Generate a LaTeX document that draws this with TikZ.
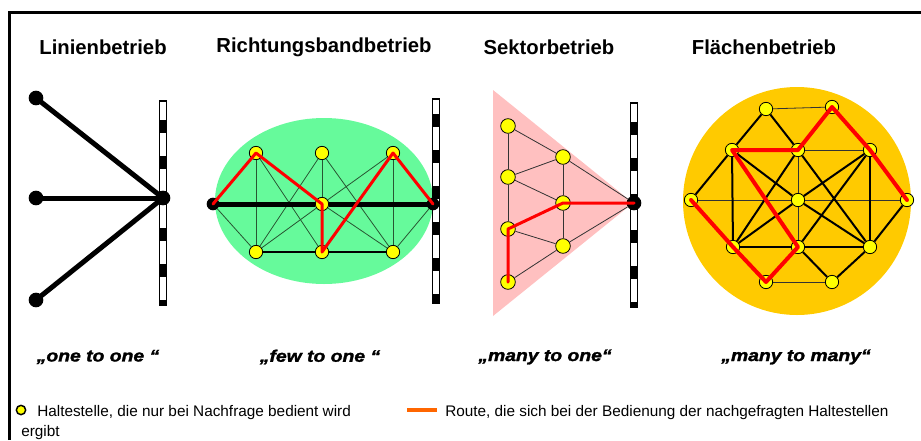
\documentclass[tikz,border=0pt]{standalone}
\usepackage{fontspec}
\setmainfont{Liberation Sans}
\definecolor{bandgreen}{RGB}{102,250,155}
\definecolor{sectorpink}{RGB}{255,192,192}
\definecolor{areagold}{RGB}{255,202,0}
\definecolor{stopyellow}{RGB}{255,255,0}
\definecolor{routered}{RGB}{255,0,0}
\definecolor{legendorange}{RGB}{255,102,0}
\definecolor{meshgreen}{RGB}{40,85,50}
% striped rail: centre x, top y, bottom y, dash phase (px)
\newcommand{\railbar}[4]{%
  \fill[white] (#1-3.5,#2) rectangle (#1+3.5,#3);
  \draw[black, line width=5.25pt, dash pattern=on 9.75pt off 17.25pt, dash phase=#4*0.75pt] (#1,#2) -- (#1,#3);
  \draw[black, line width=0.9pt] (#1-3.5,#2) rectangle (#1+3.5,#3);
}
% heavy, slightly widened italic for the mottos
\newcommand{\mottotext}[1]{\scalebox{1.16}[1]{\addfontfeature{FakeBold=1.6}#1}}
\begin{document}
\begin{tikzpicture}[x=0.75pt,y=-0.75pt,
  title/.style={font=\fontsize{15.2}{17}\selectfont\bfseries},
  motto/.style={font=\fontsize{12.5}{14}\selectfont\bfseries\itshape},
  legendtext/.style={font=\fontsize{11.5}{13}\selectfont, anchor=base west, inner sep=0},
  stop/.style={circle, fill=stopyellow, draw=black, line width=0.6pt, inner sep=0, minimum size=10pt},
  bigstop/.style={stop, minimum size=11pt},
  hub/.style={circle, fill=black, inner sep=0, minimum size=9.5pt},
  bighub/.style={circle, fill=black, inner sep=0, minimum size=11pt},
  spoke/.style={line width=3.75pt},
  mesh/.style={meshgreen, line width=0.6pt},
  thinlink/.style={black!80, line width=0.6pt},
  strong/.style={black, line width=1.5pt},
  route/.style={routered, line width=2.25pt, line join=round, line cap=round},
  wideroute/.style={routered, line width=3pt, line join=round, line cap=round}
]
\useasboundingbox (0,0) rectangle (921,440);

% outer frame (top and left edges)
\draw[line width=2.5pt] (9.5,440) -- (9.5,12.5) -- (921,12.5);

% titles
\node[title] (t1) at (103,47) {Linienbetrieb};
\node[title] (t2) at (324,47) {Richtungsbandbetrieb};
\node[title] (t3) at (549,47) {Sektorbetrieb};
\node[title] (t4) at (764,47) {Flächenbetrieb};

% ---------------- Linienbetrieb
\railbar{163}{101}{305}{17}
\node[bighub] (lh) at (163,198) {};
\node[bighub] (la) at (36,98) {};
\node[bighub] (lb) at (36,198) {};
\node[bighub] (lc) at (36,300) {};
\draw[spoke] (la.center) -- (lh.center);
\draw[spoke] (lb.center) -- (lh.center);
\draw[spoke] (lc.center) -- (lh.center);

% ---------------- Richtungsbandbetrieb
\fill[bandgreen] (324,201) ellipse [x radius=109, y radius=83];
\railbar{436}{99}{303}{21}
\node[hub] (rl) at (213,204) {};
\node[hub] (rr) at (433,204) {};
\node[stop] (r1) at (256,153) {};
\node[stop] (r2) at (322,153) {};
\node[stop] (r3) at (393,153) {};
\node[stop] (rm) at (322,204) {};
\node[stop] (r4) at (256,252) {};
\node[stop] (r5) at (322,252) {};
\node[stop] (r6) at (393,252) {};
\draw[mesh] (rl) -- (r4);
\draw[mesh] (r1) -- (r4);
\draw[mesh] (r1) -- (r5);
\draw[mesh] (r2) -- (r4);
\draw[mesh] (r2) -- (rm);
\draw[mesh] (r2) -- (r6);
\draw[mesh] (r3) -- (rm);
\draw[mesh] (r3) -- (r6);
\draw[mesh] (r4) -- (rm);
\draw[mesh] (r6) -- (rm);
\draw[mesh] (r6) -- (rr);
\draw[black, line width=0.8pt] (r4) -- (r5) -- (r6);
\draw[line width=3.75pt] (rl.center) -- (rm);
\draw[line width=3.75pt] (rm) -- (rr.center);
\draw[route] (rl.center) -- (r1.center) -- (rm.center) -- (r5.center) -- (r3.center) -- (rr.center);

% ---------------- Sektorbetrieb
\fill[sectorpink] (493,90) -- (633,203) -- (493,316) -- cycle;
\railbar{634}{103}{307}{17}
\node[bighub] (sh) at (634,203) {};
\node[bigstop] (sa) at (508,126) {};
\node[bigstop] (sb) at (508,177) {};
\node[bigstop] (sc) at (508,229) {};
\node[bigstop] (sd) at (508,282) {};
\node[bigstop] (se) at (563,157) {};
\node[bigstop] (sf) at (563,203) {};
\node[bigstop] (sg) at (563,246) {};
\draw[thinlink] (sa) -- (sb);
\draw[thinlink] (sb) -- (sc);
\draw[thinlink] (sc) -- (sd);
\draw[thinlink] (sa) -- (se);
\draw[thinlink] (sb) -- (se);
\draw[thinlink] (sb) -- (sf);
\draw[thinlink] (sc) -- (sg);
\draw[thinlink] (sd) -- (sg);
\draw[thinlink] (se) -- (sf);
\draw[thinlink] (sf) -- (sg);
\draw[thinlink] (se) -- (sh);
\draw[thinlink] (sg) -- (sh);
\draw[route] (sd.center) -- (sc.center) -- (sf.center) -- (sh.center);

% ---------------- Flächenbetrieb
\fill[areagold] (797,201) circle [radius=114];
\node[stop] (fa) at (766,109) {};
\node[stop] (fb) at (832,107) {};
\node[stop] (fc) at (732,150) {};
\node[stop] (fd) at (798,150) {};
\node[stop] (fe) at (870,150) {};
\node[stop] (ff) at (691,200) {};
\node[stop] (fg) at (798,200) {};
\node[stop] (fh) at (907,200) {};
\node[stop] (fi) at (733,247) {};
\node[stop] (fj) at (798,247) {};
\node[stop] (fk) at (870,247) {};
\node[stop] (fl) at (766,282) {};
\node[stop] (fm) at (832,282) {};
\draw[thinlink] (fa) -- (fb);
\draw[thinlink] (fd) -- (fe);
\draw[thinlink] (ff) -- (fg);
\draw[thinlink] (fg) -- (fh);
\draw[thinlink] (fl) -- (fm);
\draw[thinlink] (fd) -- (fg);
\draw[thinlink] (fg) -- (fj);
\draw[strong] (fa) -- (fc);
\draw[strong] (fa) -- (fd);
\draw[strong] (fc) -- (ff);
\draw[strong] (ff) -- (fi);
\draw[strong] (fe) -- (fh);
\draw[strong] (fh) -- (fk);
\draw[strong] (fj) -- (fm);
\draw[strong] (fk) -- (fm);
\draw[strong] (fc) -- (fi);
\draw[strong] (fe) -- (fk);
\draw[strong] (fc) -- (fg);
\draw[strong] (fg) -- (fk);
\draw[strong] (fe) -- (fg);
\draw[strong] (fg) -- (fi);
\draw[strong] (fd) -- (fi);
\draw[strong] (fd) -- (fk);
\draw[strong] (fe) -- (fj);
\draw[black, line width=1.1pt] (fi) -- (fj) -- (fk);
\draw[wideroute] (ff.center) -- (fi.center) -- (fl.center) -- (fj.center) -- (fc.center) -- (fd.center) -- (fb.center) -- (fe.center) -- (fh.center);

% mottos
\node[motto] (m1) at (98,357) {\mottotext{„one to one “}};
\node[motto] (m2) at (320,357) {\mottotext{„few to one “}};
\node[motto] (m3) at (545,357) {\mottotext{„many to one“}};
\node[motto] (m4) at (796,357) {\mottotext{„many to many“}};

% legend
\node[circle, fill=stopyellow, draw=black, line width=1.1pt, inner sep=0, minimum size=7pt] (keystop) at (21,410) {};
\node[legendtext] (keystoptext) at (37,416) {Haltestelle, die nur bei Nachfrage bedient wird};
\coordinate (keyroutea) at (407,410);
\coordinate (keyrouteb) at (437,410);
\draw[legendorange, line width=3pt] (keyroutea) -- (keyrouteb);
\node[legendtext] (keyroutetext) at (445,416) {Route, die sich bei der Bedienung der nachgefragten Haltestellen};
\node[legendtext] (keyroutetext2) at (21,436) {ergibt};
\end{tikzpicture}
\end{document}
